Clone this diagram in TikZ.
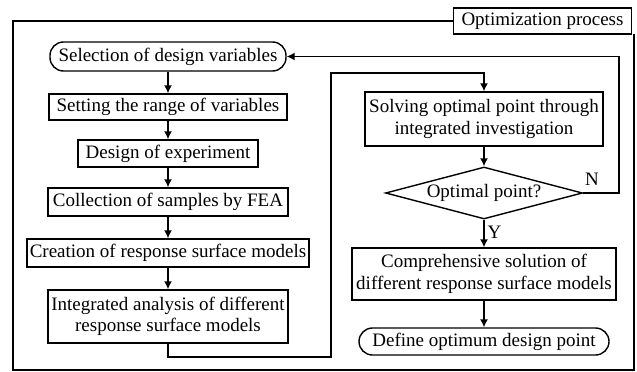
\documentclass[tikz,border=0pt]{standalone}
\usepackage{fontspec}
\setmainfont{Liberation Serif}
\usetikzlibrary{arrows.meta,shapes.geometric}
\begin{document}
\begin{tikzpicture}[x=1pt,y=-1pt,
  every node/.style={font=\fontsize{19}{21.5}\selectfont, inner sep=0pt, align=center},
  boxn/.style={draw, line width=1.4pt, rectangle},
  termn/.style={draw, line width=1.4pt, rectangle, rounded corners=13.5pt},
  decn/.style={draw, line width=1.4pt, diamond, aspect=3.8},
  flow/.style={line width=1.4pt, -{Latex[length=8pt,width=8pt]}},
  framel/.style={line width=1.1pt}
]
\useasboundingbox (0,0) rectangle (637,372);
% frame
\node[draw, framel, minimum width=178pt, minimum height=26pt] (lab) at (542.5,21) {Optimization process};
\coordinate (f1) at (13,21);
\coordinate (f2) at (634,34);
\coordinate (f3) at (634,370);
\coordinate (f4) at (13,370);
\draw[framel] (lab.west) -- (f1) -- (f4) -- (f3) -- (f2);
% left column
\node[termn, minimum width=236pt, minimum height=29pt] (sel) at (168,56.5) {Selection of design variables};
\node[boxn, minimum width=238pt, minimum height=26pt] (set) at (168,107) {Setting the range of variables};
\node[boxn, minimum width=180pt, minimum height=27pt] (doe) at (168,153.5) {Design of experiment};
\node[boxn, minimum width=240pt, minimum height=28pt] (col) at (168,202) {Collection of samples by FEA};
\node[boxn, minimum width=282pt, minimum height=28pt] (cre) at (168,253) {Creation of response surface models};
\node[boxn, minimum width=240pt, minimum height=53pt] (int) at (168,316.5) {Integrated analysis of different\\response surface models};
% right column
\node[boxn, minimum width=238pt, minimum height=54pt] (sol) at (484,119) {Solving optimal point through\\integrated investigation};
\node[decn, minimum width=197pt, minimum height=52pt] (dia) at (484,193) {Optimal point?};
\node[boxn, minimum width=264pt, minimum height=52pt] (com) at (484,274) {Comprehensive solution of\\different response surface models};
\node[termn, minimum width=250pt, minimum height=27pt] (def) at (484,341.5) {Define optimum design point};
% arrows
\draw[flow] (sel) -- (set);
\draw[flow] (set) -- (doe);
\draw[flow] (doe) -- (col);
\draw[flow] (col) -- (cre);
\draw[flow] (cre) -- (int);
\coordinate (l1) at (168,357);
\coordinate (l2) at (331,357);
\coordinate (l3) at (331,73);
\coordinate (l4) at (484,73);
\draw[flow] (int.south) -- (l1) -- (l2) -- (l3) -- (l4) -- (sol.north);
\draw[flow] (sol) -- (dia);
\draw[flow] (dia) -- node[right=3pt, pos=0.45] (yl) {Y} (com);
\draw[flow] (com) -- (def);
\coordinate (n1) at (619,193);
\coordinate (n2) at (619,56.5);
\draw[flow] (dia.east) -- (n1) -- (n2) -- (sel.east);
\node (nl) at (592,179) {N};
\end{tikzpicture}
\end{document}
